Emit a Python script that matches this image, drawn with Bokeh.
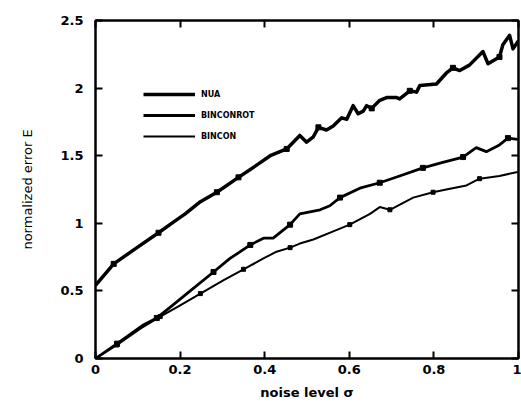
from bokeh.plotting import figure
from bokeh.models import LinearAxis, Legend, LegendItem, FixedTicker, Range1d
from bokeh.embed import file_html
from bokeh.resources import INLINE

# ---- data ----
nua_x = [0, .043, .098, .149, .185, .212, .248, .287, .338, .381, .413, .452,
         .483, .499, .515, .527, .546, .562, .582, .594, .609, .621, .633, .641,
         .653, .672, .688, .712, .719, .743, .759, .767, .806, .829, .845, .861,
         .884, .916, .928, .955, .963, .979, .987, 1.0]
nua_y = [.54, .70, .82, .93, 1.01, 1.07, 1.16, 1.23, 1.34, 1.43, 1.50, 1.55,
         1.65, 1.60, 1.64, 1.71, 1.69, 1.72, 1.78, 1.77, 1.87, 1.81, 1.83, 1.87,
         1.85, 1.91, 1.93, 1.93, 1.92, 1.98, 1.97, 2.02, 2.03, 2.11, 2.15, 2.13,
         2.17, 2.27, 2.18, 2.23, 2.32, 2.39, 2.29, 2.35]

rot_x = [0, .051, .114, .145, .177, .224, .279, .318, .366, .397, .42, .46,
         .483, .531, .554, .578, .625, .672, .719, .774, .821, .869, .90, .924,
         .955, .975, .998]
rot_y = [0, .11, .25, .30, .38, .50, .64, .74, .84, .89, .89, .99,
         1.07, 1.10, 1.13, 1.19, 1.26, 1.30, 1.35, 1.41, 1.45, 1.49, 1.56, 1.53,
         1.58, 1.63, 1.62]

bin_x = [0, .051, .106, .153, .193, .248, .303, .35, .397, .428, .46, .483,
         .515, .562, .601, .649, .672, .696, .751, .798, .829, .877, .908, .955, .998]
bin_y = [0, .10, .22, .31, .38, .48, .58, .66, .74, .79, .82, .85,
         .88, .94, .99, 1.07, 1.12, 1.10, 1.19, 1.23, 1.25, 1.28, 1.33, 1.35, 1.38]

series_names = ["NUA", "BINCONROT", "BINCON"]
x_ticks = [0, 0.2, 0.4, 0.6, 0.8, 1]
y_ticks = [0, 0.5, 1, 1.5, 2, 2.5]

# marker positions (indices into the series above)
nua_mk = [1, 3, 7, 8, 11, 15, 24, 29, 34, 39]
rot_mk = [1, 3, 6, 8, 11, 15, 17, 19, 21, 25]
bin_mk = [1, 3, 5, 7, 10, 14, 17, 19, 22]

FONT = "DejaVu Sans"

p = figure(width=521, height=412, output_backend="svg", toolbar_location=None,
           x_range=Range1d(0, 1), y_range=Range1d(0, 2.5),
           min_border_left=95, min_border_right=3, min_border_top=20,
           min_border_bottom=54, x_axis_label="noise level σ",
           y_axis_label="normalized error E")
p.grid.visible = False
p.outline_line_color = "black"
p.outline_line_width = 2
p.background_fill_color = "white"
p.border_fill_color = "white"

for ax in p.xaxis + p.yaxis:
    ax.axis_line_width = 2
    ax.major_tick_line_width = 2
    ax.major_tick_in = 7
    ax.major_tick_out = 0
    ax.minor_tick_line_color = None
    ax.major_label_text_font = FONT
    ax.major_label_text_font_style = "bold"
    ax.major_label_text_font_size = "13px"
    ax.major_label_text_color = "black"
    ax.axis_label_text_font = FONT
    ax.axis_label_text_font_size = "13px"
    ax.axis_label_text_color = "black"

p.xaxis.ticker = FixedTicker(ticks=x_ticks)
p.yaxis.ticker = FixedTicker(ticks=y_ticks)
p.xaxis.major_label_overrides = {0: "0", 1: "1"}
p.yaxis.major_label_overrides = {0: "0", 1: "1", 2: "2"}
p.xaxis.axis_label_text_font_style = "bold"
p.yaxis.axis_label_text_font_style = "normal"
p.xaxis.major_label_standoff = 6
p.yaxis.major_label_standoff = 12
p.xaxis.axis_label_standoff = 8
p.yaxis.axis_label_standoff = 22

common = dict(major_tick_in=7, major_tick_out=0, major_tick_line_width=2,
              axis_line_width=2, minor_tick_line_color=None,
              major_label_text_font_size="1px", major_label_text_color=None,
              major_label_standoff=0)
top = LinearAxis(ticker=FixedTicker(ticks=x_ticks), **common)
right = LinearAxis(ticker=FixedTicker(ticks=y_ticks), **common)
p.add_layout(top, "above")
p.add_layout(right, "right")

r1 = p.line(nua_x, nua_y, line_color="black", line_width=3.5, line_join="round")
r2 = p.line(rot_x, rot_y, line_color="black", line_width=2.8, line_join="round")
r3 = p.line(bin_x, bin_y, line_color="black", line_width=2, line_join="round")

p.scatter([nua_x[i] for i in nua_mk], [nua_y[i] for i in nua_mk],
          marker="square", size=5, color="black")
p.scatter([rot_x[i] for i in rot_mk], [rot_y[i] for i in rot_mk],
          marker="square", size=5, color="black")
p.scatter([bin_x[i] for i in bin_mk], [bin_y[i] for i in bin_mk],
          marker="square", size=4, color="black")

legend = Legend(items=[LegendItem(label=series_names[0], renderers=[r1]),
                       LegendItem(label=series_names[1], renderers=[r2]),
                       LegendItem(label=series_names[2], renderers=[r3])],
                location=(48, 214), background_fill_alpha=0, border_line_color=None,
                glyph_width=52, glyph_height=16, spacing=5, label_standoff=6,
                label_text_font=FONT, label_text_font_style="bold",
                label_text_color="black",
                label_text_font_size="8px", padding=0, margin=0)
p.add_layout(legend, "center")

open("out.html", "w").write(file_html(p, INLINE))
